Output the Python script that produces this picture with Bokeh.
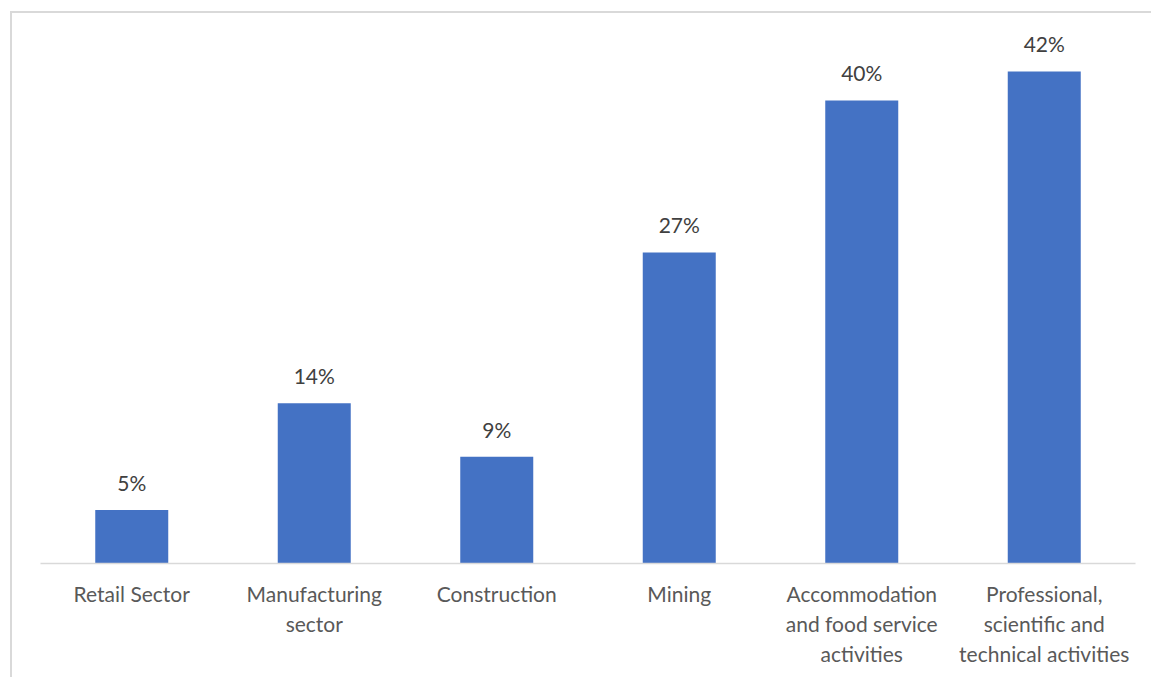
from bokeh.plotting import figure
from bokeh.models import ColumnDataSource, Range1d, LabelSet
from bokeh.core.properties import value
from bokeh.embed import file_html
from bokeh.resources import INLINE

categories = ["Retail Sector", "Manufacturing\nsector", "Construction", "Mining",
              "Accommodation\nand food service\nactivities",
              "Professional,\nscientific and\ntechnical activities"]
values = [4.6, 13.8, 9.2, 26.8, 39.9, 42.4]
labels = ["5%", "14%", "9%", "27%", "40%", "42%"]

src = ColumnDataSource(dict(cat=categories, val=values, lab=labels))

p = figure(x_range=categories, y_range=Range1d(0, 46.7), width=1141, height=666,
           output_backend="svg", toolbar_location=None,
           min_border_left=28, min_border_right=18, min_border_top=8, min_border_bottom=116)
p.margin = (11, 0, 0, 10)
p.styles = {"border-left": "2px solid #d9d9d9", "border-top": "2px solid #d9d9d9",
            "box-sizing": "border-box"}

p.vbar(x="cat", top="val", width=0.4, source=src, fill_color="#4472C4", line_color=None)
p.add_layout(LabelSet(x="cat", y="val", text="lab", source=src, text_align="center",
                      text_baseline="bottom", y_offset=15, text_color="#404040",
                      text_font=value("Lato"), text_font_size="21px"))

p.outline_line_color = None
p.grid.visible = False
p.yaxis.visible = False
xa = p.xaxis[0]
xa.axis_line_color = "#d9d9d9"
xa.axis_line_width = 1.5
xa.major_tick_line_color = None
xa.minor_tick_line_color = None
xa.major_label_text_font = "Lato"
xa.major_label_text_font_size = "21px"
xa.major_label_text_color = "#595959"
xa.major_label_standoff = 11
xa.major_label_orientation = "horizontal"

open("out.html", "w").write(file_html(p, INLINE))
